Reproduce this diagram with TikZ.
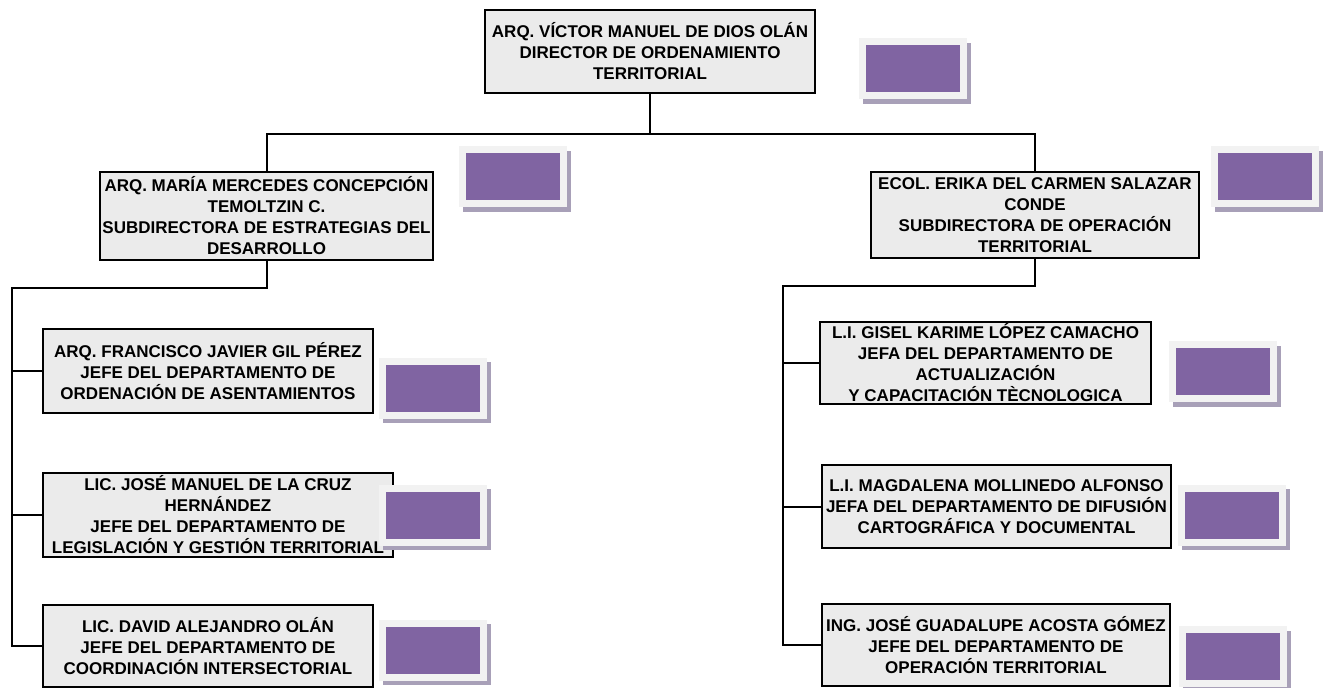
\documentclass[tikz,border=0pt]{standalone}
\usepackage{fontspec}
\setmainfont{Liberation Sans}
\definecolor{boxgray}{HTML}{EBEBEB}
\definecolor{photopurple}{HTML}{8064A2}
\definecolor{photoframe}{HTML}{F2F2F2}
\definecolor{photoshade}{HTML}{A8A0B8}
\begin{document}
\begin{tikzpicture}[x=1pt,y=-1pt,
  post/.style={draw=black, line width=2.4pt, fill=boxgray, inner sep=0pt, align=center,
    font=\bfseries\fontsize{17}{21}\selectfont},
  link/.style={line width=2pt},
  photo/.style={fill=photopurple, minimum width=94pt, minimum height=47pt, inner sep=0pt,
    preaction={draw=photoshade, fill=photoshade, line width=14pt,
      transform canvas={shift={(3.5pt,-4.5pt)}}},
    preaction={draw=photoframe, fill=photoframe, line width=14pt}}]
\useasboundingbox (0,0) rectangle (1323,688);

% director
\node[post, minimum width=330pt, minimum height=83pt] (dir) at (650,51.5)
  {ARQ. VÍCTOR MANUEL DE DIOS OLÁN\\DIRECTOR DE ORDENAMIENTO\\TERRITORIAL};

% sub-directorates
\node[post, minimum width=333pt, minimum height=88pt] (subL) at (266.5,216)
  {ARQ. MARÍA MERCEDES CONCEPCIÓN\\TEMOLTZIN C.\\SUBDIRECTORA DE ESTRATEGIAS DEL\\DESARROLLO};
\node[post, minimum width=328pt, minimum height=86pt] (subR) at (1035,215)
  {ECOL. ERIKA DEL CARMEN SALAZAR\\CONDE\\SUBDIRECTORA DE OPERACIÓN\\TERRITORIAL};

% departments, left branch
\node[post, minimum width=330pt, minimum height=84pt] (L1) at (208,371)
  {ARQ. FRANCISCO JAVIER GIL PÉREZ\\JEFE DEL DEPARTAMENTO DE\\ORDENACIÓN DE ASENTAMIENTOS};
\node[post, minimum width=350pt, minimum height=84pt] (L2) at (218,515)
  {LIC. JOSÉ MANUEL DE LA CRUZ\\HERNÁNDEZ\\JEFE DEL DEPARTAMENTO DE\\LEGISLACIÓN Y GESTIÓN TERRITORIAL};
\node[post, minimum width=330pt, minimum height=82pt] (L3) at (208,646)
  {LIC. DAVID ALEJANDRO OLÁN\\JEFE DEL DEPARTAMENTO DE\\COORDINACIÓN INTERSECTORIAL};

% departments, right branch
\node[post, minimum width=331pt, minimum height=82pt] (R1) at (985.5,363)
  {L.I. GISEL KARIME LÓPEZ CAMACHO\\JEFA DEL DEPARTAMENTO DE\\ACTUALIZACIÓN\\Y CAPACITACIÓN TÈCNOLOGICA};
\node[post, minimum width=349pt, minimum height=83pt] (R2) at (996.5,506.5)
  {L.I. MAGDALENA MOLLINEDO ALFONSO\\JEFA DEL DEPARTAMENTO DE DIFUSIÓN\\CARTOGRÁFICA Y DOCUMENTAL};
\node[post, minimum width=348pt, minimum height=82pt] (R3) at (996,645)
  {ING. JOSÉ GUADALUPE ACOSTA GÓMEZ\\JEFE DEL DEPARTAMENTO DE\\OPERACIÓN TERRITORIAL};

% bus coordinates
\coordinate (topbus) at (650,134);
\coordinate (lbus) at (12,288);
\coordinate (rbus) at (783,286);

% connectors
\draw[link] (dir.south) -- (dir.south |- topbus);
\draw[link] (subL.north) -- (subL.north |- topbus) -- (subR.north |- topbus) -- (subR.north);
\draw[link] (subL.south) -- (subL.south |- lbus) -- (lbus) -- (lbus |- L3.west) -- (L3.west);
\draw[link] (lbus |- L1.west) -- (L1.west);
\draw[link] (lbus |- L2.west) -- (L2.west);
\draw[link] (subR.south) -- (subR.south |- rbus) -- (rbus) -- (rbus |- R3.west) -- (R3.west);
\draw[link] (rbus |- R1.west) -- (R1.west);
\draw[link] (rbus |- R2.west) -- (R2.west);

% photo placeholders
\node[photo] (pdir) at (913,68.5) {};
\node[photo] (psubL) at (513,176.5) {};
\node[photo] (psubR) at (1265,176.5) {};
\node[photo] (pL1) at (433,388) {};
\node[photo] (pL2) at (433,515) {};
\node[photo] (pL3) at (433,650) {};
\node[photo] (pR1) at (1223,371.5) {};
\node[photo] (pR2) at (1232,515) {};
\node[photo] (pR3) at (1233,656.5) {};
\end{tikzpicture}
\end{document}
